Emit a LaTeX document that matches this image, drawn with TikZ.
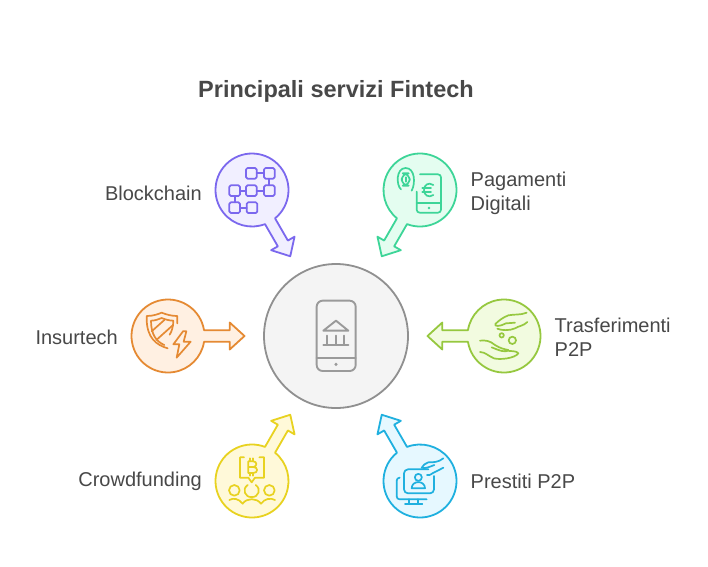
\documentclass[tikz,border=0pt]{standalone}
\usepackage{fontspec}
\setmainfont{Liberation Sans}
\definecolor{ink}{HTML}{484848}
\definecolor{hubS}{HTML}{909090}\definecolor{hubF}{HTML}{F4F4F4}\definecolor{hubI}{HTML}{9A9A9A}
\definecolor{violS}{HTML}{7B68EE}\definecolor{violF}{HTML}{F1EFFF}
\definecolor{mintS}{HTML}{3DD598}\definecolor{mintF}{HTML}{E4FDF0}
\definecolor{limeS}{HTML}{96C83F}\definecolor{limeF}{HTML}{F2FBE0}
\definecolor{skyS}{HTML}{1FB0DF}\definecolor{skyF}{HTML}{E6F8FF}
\definecolor{goldS}{HTML}{E8D220}\definecolor{goldF}{HTML}{FFF9D9}
\definecolor{oranS}{HTML}{E58A33}\definecolor{oranF}{HTML}{FFF0E2}
\tikzset{
  anchorpt/.style={circle,minimum size=73pt,inner sep=0pt,outer sep=0pt},
  label text/.style={text=ink,font=\fontsize{20}{24}\selectfont,inner sep=0pt,align=left},
  icon/.style={line width=1.7pt,line cap=round,line join=round},
  zoomed/.style={x=0.33333pt,y=-0.33333pt}
}
\newcommand{\fatarrow}[4]{% node, angle, stroke, fill
  \begin{scope}[shift={(#1.center)},rotate=#2]
    \draw[line width=1.8pt,line join=round,draw=#3,fill=#4]
      (36.04pt,5.8pt) arc[start angle=9.15,delta angle=341.7,radius=36.5pt]
      -- (61.7pt,-5.8pt) -- (61.7pt,-13.5pt) -- (76.5pt,0pt) -- (61.7pt,13.5pt) -- (61.7pt,5.8pt) -- cycle;
  \end{scope}}
\begin{document}
\begin{tikzpicture}[x=1pt,y=-1pt]
\useasboundingbox (0,0) rectangle (708,566);
\fill[white] (0,0) rectangle (708,566);
\node[font=\fontsize{23.5}{28}\selectfont\bfseries,text=ink,inner sep=0pt] (title) at (336,91.5) {Principali servizi Fintech};

\node[circle,minimum size=144pt,inner sep=0pt,draw=hubS,fill=hubF,line width=1.8pt] (hub) at (336,336) {};
\node[anchorpt] (block) at (252,190) {};
\node[anchorpt] (pay) at (420,190) {};
\node[anchorpt] (transf) at (504,336) {};
\node[anchorpt] (loan) at (420,481) {};
\node[anchorpt] (crowd) at (252,481) {};
\node[anchorpt] (insur) at (168,336) {};

\fatarrow{block}{-60}{violS}{violF}
\fatarrow{pay}{-120}{mintS}{mintF}
\fatarrow{transf}{180}{limeS}{limeF}
\fatarrow{loan}{120}{skyS}{skyF}
\fatarrow{crowd}{60}{goldS}{goldF}
\fatarrow{insur}{0}{oranS}{oranF}

\node[label text,anchor=east] (tblock) at (202,193) {Blockchain};
\node[label text,anchor=west] (tpay) at (470.5,193) {Pagamenti\\Digitali};
\node[label text,anchor=west] (ttransf) at (554.5,337) {Trasferimenti\\P2P};
\node[label text,anchor=west] (tloan) at (470.5,481) {Prestiti P2P};
\node[label text,anchor=east] (tcrowd) at (202,481) {Crowdfunding};
\node[label text,anchor=east] (tinsur) at (118,337) {Insurtech};

% hub icon
\begin{scope}[shift={(290,285)},zoomed,icon,draw=hubI,line width=1.9pt]
  \draw[rounded corners=6pt] (80,47) rectangle (197,258);
  \draw (80,218) -- (197,218);
  \fill[hubI] (138,238) circle (5);
  \draw (100,137) -- (138,107) -- (175,137) -- cycle;
  \draw (112,152) -- (112,178) (137,152) -- (137,178) (162,152) -- (162,178);
  \draw (100,180) -- (175,180);
\end{scope}

% blockchain icon
\begin{scope}[shift={(200,140)},zoomed,icon,draw=violS]
  \foreach \cx/\cy in {154/100,208/100,104/152,154/152,208/152,104/203,156/203}
    \draw[rounded corners=1.5pt] (\cx-16,\cy-16) rectangle (\cx+16,\cy+16);
  \draw (170,100) -- (192,100) (120,152) -- (138,152) (170,152) -- (192,152) (120,203) -- (140,203);
  \draw (208,116) -- (208,136) (104,168) -- (104,187);
\end{scope}

% payment icon
\begin{scope}[shift={(365,140)},zoomed,icon,draw=mintS]
  \draw[rounded corners=3pt] (165,103) -- (228,103) -- (228,218) -- (155,218) -- (155,155);
  \draw (155,190) -- (228,190);
  \fill[mintS] (192,204) circle (4);
  \draw (205,135) .. controls (190,125) and (177,135) .. (177,150) .. controls (177,165) and (190,175) .. (205,165);
  \draw (172,145) -- (198,145) (172,156) -- (198,156);
  \draw (140,152) .. controls (152,130) and (150,84) .. (122,84) .. controls (93,84) and (93,135) .. (108,148);
  \draw[rounded corners=7pt] (110,100) rectangle (134,137);
  \draw (122,112) -- (122,125);
\end{scope}

% transfer icon
\begin{scope}[shift={(420,290)},zoomed,icon,draw=limeS]
  \draw (320,68) .. controls (300,76) and (285,72) .. (265,76) .. controls (250,82) and (238,90) .. (226,102) .. controls (222,110) and (240,110) .. (258,100) -- (285,98);
  \draw (322,96) .. controls (310,108) and (295,108) .. (285,115) .. controls (270,122) and (245,122) .. (232,116);
  \draw (180,152) .. controls (195,150) and (210,152) .. (225,165) .. controls (240,175) and (255,178) .. (265,180) .. controls (258,190) and (235,180) .. (215,172);
  \draw (180,186) .. controls (195,186) and (205,198) .. (222,205) .. controls (240,210) and (285,205) .. (295,190) .. controls (290,182) and (275,184) .. (260,182);
  \draw (245,136) circle (6.5);
  \draw (277,151) circle (11);
\end{scope}

% loan icon
\begin{scope}[shift={(365,405)},zoomed,icon,draw=skyS]
  \draw[rounded corners=4pt] (190,193) -- (117,193) -- (117,265) -- (207,265) -- (207,213);
  \draw[rounded corners=3pt] (103,218) -- (95,218) -- (95,283) -- (185,283);
  \draw (133,283) -- (133,297) (158,283) -- (158,297) (120,298) -- (172,298);
  \draw (160,217) circle (10.5);
  \draw (140,250) .. controls (140,225) and (180,225) .. (180,250) -- cycle;
  \draw (235,160) .. controls (220,172) and (205,172) .. (190,172) .. controls (180,175) and (175,180) .. (170,188) .. controls (180,192) and (195,185) .. (208,180);
  \draw (235,188) .. controls (222,195) and (212,200) .. (204,204) .. controls (195,210) and (190,212) .. (186,210);
\end{scope}

% crowdfunding icon
\begin{scope}[shift={(200,405)},zoomed,icon,draw=goldS]
  \draw (132,157) -- (120,157) -- (120,218) -- (145,218) -- (155,232) -- (165,218) -- (192,218) -- (192,157) -- (178,157);
  \draw (145,169) -- (145,204) (145,169) -- (160,169) .. controls (172,169) and (172,185) .. (160,186) -- (145,186) (160,186) .. controls (175,186) and (175,204) .. (160,204) -- (145,204);
  \draw (150,160) -- (150,169) (160,160) -- (160,169) (150,204) -- (150,212) (160,204) -- (160,212);
  \draw (103,256) circle (16);
  \draw (208,256) circle (16);
  \draw (143,240) .. controls (125,252) and (135,278) .. (155,276) .. controls (175,278) and (185,252) .. (167,240);
  \draw (88,285) .. controls (100,278) and (115,280) .. (128,296) .. controls (140,278) and (170,278) .. (183,296) .. controls (195,280) and (212,278) .. (225,285);
\end{scope}

% insurtech icon
\begin{scope}[shift={(125,290)},zoomed,icon,draw=oranS]
  \draw (128,175) .. controls (95,165) and (65,145) .. (65,85) -- (65,78) .. controls (85,78) and (100,72) .. (110,68) .. controls (125,74) and (140,78) .. (157,78) -- (157,100);
  \draw (118,165) .. controls (95,155) and (78,135) .. (78,92) .. controls (90,92) and (100,88) .. (110,84) .. controls (120,88) and (133,92) .. (145,92) .. controls (145,110) and (140,125) .. (134,134);
  \draw (80,124) -- (118,90) (94,150) -- (143,106);
  \draw (174,124) -- (145,163) -- (163,163) -- (155,203) -- (197,155) -- (176,155) -- (184,124) -- cycle;
\end{scope}
\end{tikzpicture}
\end{document}
